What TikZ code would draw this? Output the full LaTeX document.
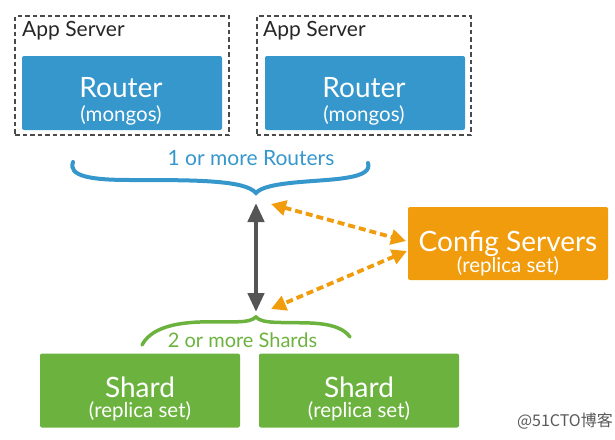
\documentclass[tikz,border=0pt]{standalone}
\usepackage{fontspec}
\setmainfont{Lato}
\newfontfamily\cjkfont{Noto Sans CJK SC}
\usetikzlibrary{arrows.meta}
\definecolor{rblue}{HTML}{3597CC}
\definecolor{corange}{HTML}{F09C0C}
\definecolor{sgreen}{HTML}{6BB33E}
\definecolor{dgray}{HTML}{555555}
\definecolor{bgray}{HTML}{4A4A4A}
\definecolor{agray}{HTML}{595959}
\tikzset{
  appbox/.style={draw=bgray, line width=2pt, dash pattern=on 4.5pt off 3pt, minimum width=214pt, minimum height=119pt, inner sep=0pt},
  fillbox/.style={rounded corners=2pt, inner sep=0pt},
  routerbox/.style={fillbox, fill=rblue, minimum width=200pt, minimum height=74pt},
  configbox/.style={fillbox, fill=corange, minimum width=200pt, minimum height=73pt},
  shardbox/.style={fillbox, fill=sgreen, minimum width=200pt, minimum height=74pt},
  maintxt/.style={anchor=base, text=white, inner sep=0pt, font=\fontsize{28}{28}\selectfont},
  subtxt/.style={anchor=base, text=white, inner sep=0pt, font=\fontsize{20.5}{20.5}\selectfont},
  apptxt/.style={anchor=base west, font=\fontsize{21}{21}\selectfont, text=black!85, inner sep=0pt},
  brace/.style={line width=4pt, line cap=round},
  orangearrow/.style={corange, line width=3.8pt, dash pattern=on 7pt off 4pt, {Triangle[length=15pt,width=15pt]}-{Triangle[length=15pt,width=15pt]}},
  grayarrow/.style={dgray, line width=4.5pt, {Triangle[length=19pt,width=16pt]}-{Triangle[length=19pt,width=16pt]}},
}
\begin{document}
\begin{tikzpicture}[x=1pt,y=-1pt]
\useasboundingbox (0,0) rectangle (615,439);
% app servers
\node[appbox] (app1) at (122,75.5) {};
\node[appbox] (app2) at (363.5,75.5) {};
\node[apptxt] (app1t) at (22,36) {App Server};
\node[apptxt] (app2t) at (263,36) {App Server};
% routers
\node[routerbox] (r1) at (122,93) {};
\node[routerbox] (r2) at (365,93) {};
\foreach \r in {r1,r2}{
  \node[maintxt] (\r t) at ([xshift=-1pt,yshift=-42pt]\r.north) {Router};
  \node[subtxt] (\r s) at ([xshift=-1pt,yshift=-66pt]\r.north) {(mongos)};
}
% label and brace
\node[text=rblue, font=\fontsize{21}{21}\selectfont, inner sep=0pt, anchor=base] (rlab) at (251,165) {1 or more Routers};
\coordinate (rtip) at (256,193);
\draw[rblue, brace] (73,162) .. controls (68,176) and (90,180) .. (130,180) .. controls (195,180) and (245,180) .. (rtip) .. controls (266,181) and (320,182) .. (345,178) .. controls (365,175) and (370,170) .. (368,163);
% config
\node[configbox] (cfg) at (508,243.5) {};
\node[maintxt] (cfgt) at ([yshift=-45pt]cfg.north) {Config Servers};
\node[subtxt] (cfgs) at ([yshift=-66pt]cfg.north) {(replica set)};
% shards
\node[shardbox] (s1) at (140,390.5) {};
\node[shardbox] (s2) at (359,390.5) {};
\foreach \s in {s1,s2}{
  \node[maintxt] (\s t) at ([yshift=-44pt]\s.north) {Shard};
  \node[subtxt] (\s s) at ([yshift=-64pt]\s.north) {(replica set)};
}
\node[text=sgreen, font=\fontsize{20}{20}\selectfont, inner sep=0pt, anchor=base] (slab) at (242.5,347) {2 or more Shards};
\coordinate (stip) at (256,317);
\draw[sgreen, line width=3.5pt, line cap=round] (142,345) .. controls (150,330) and (170,323) .. (200,322) .. controls (235,321) and (248,324) .. (stip) .. controls (262,324) and (280,322) .. (310,323) .. controls (335,324) and (345,330) .. (350,337);
% arrows
\coordinate (gtop) at (256,203);
\coordinate (gbot) at (256,312);
\draw[grayarrow] (gtop) -- (gbot);
\coordinate (otop) at (271,204);
\coordinate (obot) at (271,309);
\coordinate (cin1) at (406,241);
\coordinate (cin2) at (407,251);
\draw[orangearrow] (otop) -- (cin1);
\draw[orangearrow] (cin2) -- (obot);
% watermark
\node[anchor=east, text=agray, font=\cjkfont\fontsize{16}{16}\selectfont, inner sep=0pt] (wm) at (613,421) {@51CTO博客};
\end{tikzpicture}
\end{document}
